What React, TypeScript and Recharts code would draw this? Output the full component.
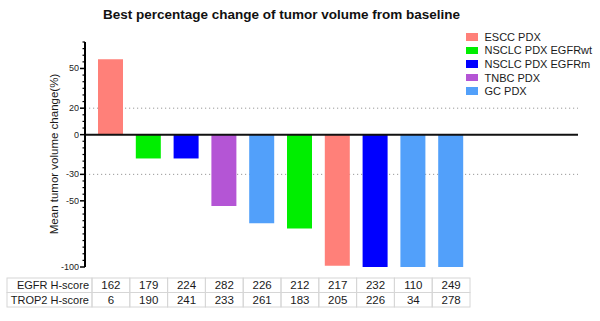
import { BarChart, Bar, XAxis, YAxis, CartesianGrid, ReferenceLine } from 'recharts';

const groups = ['ESCC PDX', 'NSCLC PDX EGFRwt', 'NSCLC PDX EGFRm', 'TNBC PDX', 'GC PDX'];
const groupColors = ['#FF8079', '#00EE00', '#0000FF', '#B455D5', '#52A0FA'];

// one entry per PDX model, left to right
const modelIds = ['M1', 'M2', 'M3', 'M4', 'M5', 'M6', 'M7', 'M8', 'M9', 'M10'];
const modelGroup = [0, 1, 2, 3, 4, 1, 0, 2, 4, 4];
const volumeChange = [57, -18, -18, -54, -67, -71, -99, -100, -100, -100];
const egfrScore = [162, 179, 224, 282, 226, 212, 217, 232, 110, 249];
const trop2Score = [6, 190, 241, 233, 261, 183, 205, 226, 34, 278];

const yMajorTicks = [50, 20, 0, -30, -50, -100];
const yMinorTicks = [70, 65, 60, 55, 50, 45, 40, 35, 30, 25, 20, 15, 10, 5, 0, -5, -10, -15, -20, -25, -30, -35, -40, -45, -50, -55, -60, -65, -70, -75, -80, -85, -90, -95, -100];
const gridValues = [20, -30];

const data = modelIds.map((id, i) => ({ id, [groups[modelGroup[i]]]: volumeChange[i] }));

const FONT = '"Liberation Sans", Arial, sans-serif';
const AXIS_X = 85;
const PLOT_RIGHT = 578;
const PAD_L = 7;
const PAD_R = 108;
const BAND = (PLOT_RIGHT - AXIS_X - PAD_L - PAD_R) / modelIds.length;
const ROW1 = 278;
const ROW_H = 14.5;
const TABLE_LEFT = 7;
const BORDER = '#d6d6d6';

function YTick(props: any) {
    const { y, payload } = props;
    const major = yMajorTicks.includes(payload.value);
    return (
        <g>
            <line x1={AXIS_X - (major ? 5 : 2.5)} x2={AXIS_X} y1={y} y2={y} stroke="#000" strokeWidth={major ? 1.5 : 1.2} />
            {major && (
                <text x={AXIS_X - 6} y={y} dy={3} textAnchor="end" fontSize={9} fill="#222" fontFamily={FONT}>
                    {payload.value}
                </text>
            )}
        </g>
    );
}

function TableTick(props: any) {
    const { x, index } = props;
    const i = index ?? props.payload?.index ?? 0;
    const left = x - BAND / 2;
    return (
        <g fontFamily={FONT} fontSize={11.5} fill="#1a1a1a">
            {i === 0 && (
                <g fontSize={11}>
                    <rect x={TABLE_LEFT} y={ROW1} width={left - TABLE_LEFT} height={ROW_H} fill="none" stroke={BORDER} />
                    <rect x={TABLE_LEFT} y={ROW1 + ROW_H} width={left - TABLE_LEFT} height={ROW_H} fill="none" stroke={BORDER} />
                    <text x={left - 3} y={ROW1 + ROW_H / 2 + 4} textAnchor="end">EGFR H-score</text>
                    <text x={left - 3} y={ROW1 + ROW_H * 1.5 + 4} textAnchor="end">TROP2 H-score</text>
                </g>
            )}
            <rect x={left} y={ROW1} width={BAND} height={ROW_H} fill="none" stroke={BORDER} />
            <rect x={left} y={ROW1 + ROW_H} width={BAND} height={ROW_H} fill="none" stroke={BORDER} />
            <text x={x} y={ROW1 + ROW_H / 2 + 4} textAnchor="middle">{egfrScore[i]}</text>
            <text x={x} y={ROW1 + ROW_H * 1.5 + 4} textAnchor="middle">{trop2Score[i]}</text>
        </g>
    );
}

function GroupLegend() {
    return (
        <div style={{ position: 'absolute', left: 466, top: 30, fontFamily: FONT, fontSize: 11, color: '#1a1a1a' }}>
            {groups.map((g, k) => (
                <div key={g} style={{ display: 'flex', alignItems: 'center', height: 13.6 }}>
                    <span style={{ display: 'inline-block', width: 11.5, height: 7.5, background: groupColors[k], marginRight: 7 }} />
                    <span>{g}</span>
                </div>
            ))}
        </div>
    );
}

export default function App() {
    return (
        <div style={{ position: 'absolute', left: 0, top: 0, width: 600, height: 321, background: '#fff' }}>
            <div
                style={{
                    position: 'absolute',
                    left: 0,
                    top: 6,
                    width: 563,
                    textAlign: 'center',
                    fontFamily: FONT,
                    fontWeight: 'bold',
                    fontSize: 13.5,
                    lineHeight: '18px',
                    color: '#111',
                }}
            >
                Best percentage change of tumor volume from baseline
            </div>
            <BarChart width={600} height={321} data={data} margin={{ top: 42, right: 600 - PLOT_RIGHT, bottom: 0, left: 0 }}>
                <CartesianGrid vertical={false} horizontalValues={gridValues} stroke="#999" strokeDasharray="1.2 2.8" />
                <XAxis
                    dataKey="id"
                    height={54}
                    padding={{ left: PAD_L, right: PAD_R }}
                    axisLine={false}
                    tickLine={false}
                    interval={0}
                    tick={(p: any) => <TableTick {...p} />}
                />
                <YAxis
                    width={AXIS_X}
                    domain={[-100, 70]}
                    ticks={yMinorTicks}
                    interval={0}
                    tickLine={false}
                    axisLine={{ stroke: '#000', strokeWidth: 2 }}
                    tick={(p: any) => <YTick {...p} />}
                    label={{
                        content: () => (
                            <text
                                transform="translate(58,154) rotate(-90)"
                                textAnchor="middle"
                                fontFamily={FONT}
                                fontSize={11.5}
                                fill="#1a1a1a"
                            >
                                Mean tumor volume change(%)
                            </text>
                        ),
                    }}
                />
                {groups.map((g, k) => (
                    <Bar key={g} dataKey={g} stackId="a" fill={groupColors[k]} barSize={25} isAnimationActive={false} />
                ))}
                <ReferenceLine y={0} stroke="#111" strokeWidth={2} />
            </BarChart>
            <GroupLegend />
        </div>
    );
}
